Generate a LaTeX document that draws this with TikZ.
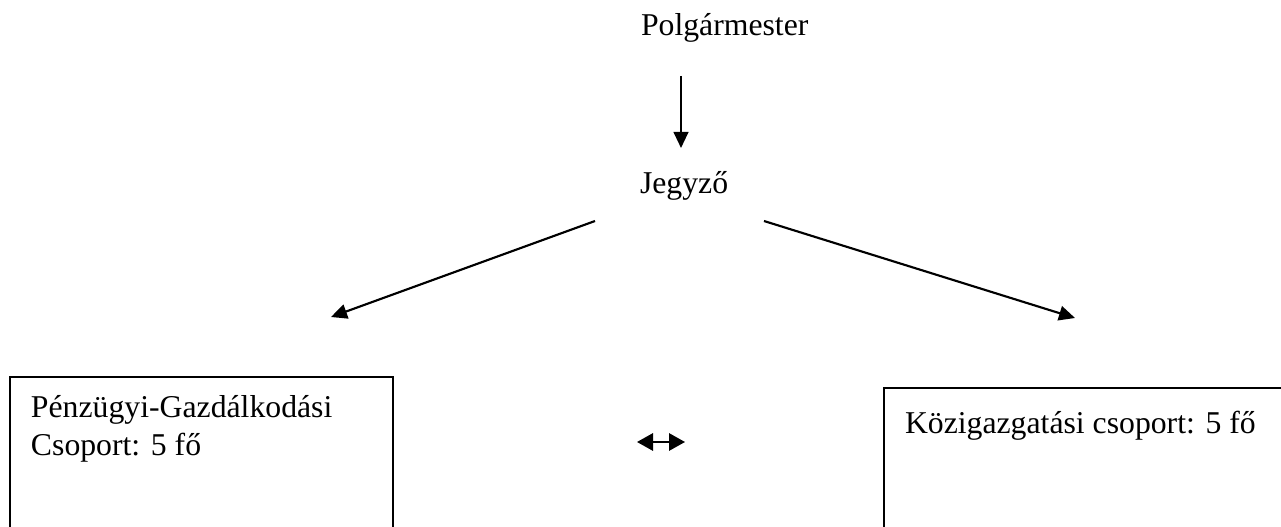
\documentclass[tikz,border=0pt]{standalone}
\usepackage{fontspec}
\setmainfont{Liberation Serif}
\usetikzlibrary{arrows.meta}
\begin{document}
\begin{tikzpicture}[x=0.75pt,y=-0.75pt,
  label/.style={anchor=base west,inner sep=0pt,outer sep=0pt,
    font=\fontsize{23.8}{28.5}\selectfont,align=left},
  link/.style={line width=1.6pt,-{Triangle[length=12pt,width=11pt]}},
  unitbox/.style={line width=2.2pt},
  tie/.style={line width=1.5pt,{Triangle[length=12pt,width=13pt]}-{Triangle[length=12pt,width=13pt]}}]
\useasboundingbox (0,0) rectangle (1281,527);

% leaders
\node[label] (mayor) at (641,36) {Polgármester};
\node[label] (notary) at (640,194) {Jegyző};

% arrow ends
\coordinate (m-out) at (681,76);
\coordinate (n-in) at (681,148);
\coordinate (n-left) at (595,221);
\coordinate (n-right) at (764,221);
\coordinate (l-in) at (331,317);
\coordinate (r-in) at (1075,318);

\draw[link] (m-out) -- (n-in);
\draw[link] (n-left) -- (l-in);
\draw[link] (n-right) -- (r-in);

% departments (boxes run past the page edge)
\begin{scope}
  \clip (0,0) rectangle (1281,527);
  \draw[unitbox] (10,540) -- (10,377) -- (393,377) -- (393,540);
  \draw[unitbox] (884,540) -- (884,388) -- (1300,388);
\end{scope}
% a multi-line node sits on its last baseline
\node[label] (finance) at (31,455) {Pénzügyi-Gazdálkodási\\Csoport: 5 fő};
\node[label] (admin) at (905,433) {Közigazgatási csoport: 5 fő};

% cooperation between the two groups
\coordinate (t-left) at (637,442);
\coordinate (t-right) at (685,442);
\draw[tie] (t-left) -- (t-right);
\end{tikzpicture}
\end{document}
